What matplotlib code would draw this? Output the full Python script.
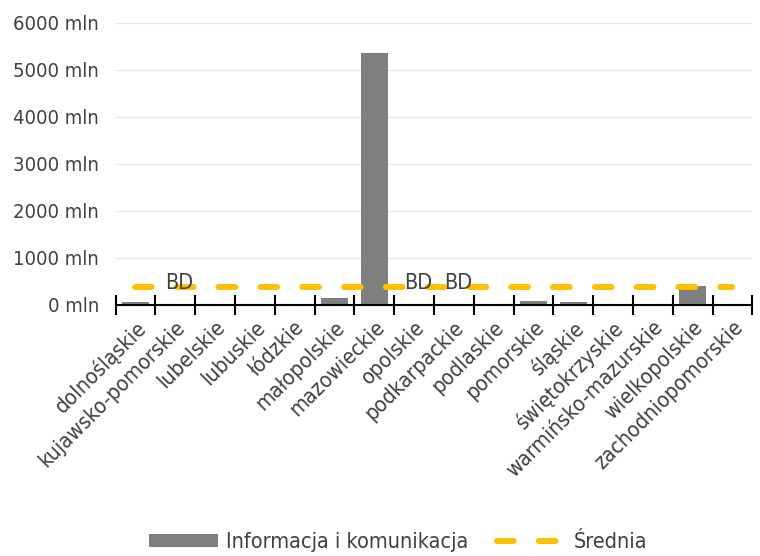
import numpy as np
import matplotlib
matplotlib.use("Agg")
from matplotlib import pyplot as plt
from matplotlib.patches import Patch
from matplotlib.lines import Line2D

regions = ["dolnośląskie", "kujawsko-pomorskie", "lubelskie", "lubuskie", "łódzkie",
           "małopolskie", "mazowieckie", "opolskie", "podkarpackie", "podlaskie",
           "pomorskie", "śląskie", "świętokrzyskie", "warmińsko-mazurskie",
           "wielkopolskie", "zachodniopomorskie"]
values = [55, 0, 0, 0, 25, 150, 5365, 0, 0, 0, 78, 57, 0, 0, 405, 0]
no_data = ["kujawsko-pomorskie", "opolskie", "podkarpackie"]
average = 382
yticks = [0, 1000, 2000, 3000, 4000, 5000, 6000]

plt.rcParams['font.family'] = ['DejaVu Sans']
plt.rcParams['font.stretch'] = 'condensed'
text_col = "#404040"

fig = plt.figure(figsize=(7.6, 5.56), dpi=100)
ax = fig.add_axes([0.152, 0.452, 0.838, 0.507])

x = np.arange(len(regions))
ax.bar(x, values, width=0.69, color="#7f7f7f", zorder=2)
ax.plot(x, [average] * len(x), color="#FFC000", lw=4.3, dashes=(2.8, 4.2),
        dash_capstyle="round", zorder=3)

for r in no_data:
    i = regions.index(r)
    ax.text(i + 0.1, 470, "BD", ha="center", va="center", fontsize=15.5, color=text_col, zorder=4)

ax.set_xlim(-0.5, len(regions) - 0.5)
ax.set_ylim(0, 6000)
ax.set_yticks(yticks)
ax.set_yticklabels([f"{v} mln" for v in yticks], fontsize=14.5, color=text_col)
ax.tick_params(axis="y", length=0, pad=12)
ax.grid(axis="y", color="#e6e6e6", lw=1, zorder=0)

ax.set_xticks(np.arange(len(regions) + 1) - 0.5, minor=False)
ax.set_xticklabels([])
ax.tick_params(axis="x", direction="inout", length=14, width=1.5, color="black")
ax.set_xticks(x, minor=True)
ax.set_xticklabels(regions, minor=True, rotation=45, ha="right", rotation_mode="anchor",
                   fontsize=15.5, color=text_col)
ax.tick_params(axis="x", which="minor", length=0, pad=9)

for s in ["top", "right", "left"]:
    ax.spines[s].set_visible(False)
ax.spines["bottom"].set_linewidth(1.5)
ax.spines["bottom"].set_zorder(5)

handles = [Patch(facecolor="#7f7f7f", edgecolor="none"),
           Line2D([], [], color="#FFC000", lw=4.3, dashes=(2.8, 4.2), dash_capstyle="round")]
fig.legend(handles, ["Informacja i komunikacja", "Średnia"], loc="lower center",
           bbox_to_anchor=(0.524, -0.028), ncol=2, frameon=False, fontsize=15.5,
           handlelength=3.2, handleheight=0.55, handletextpad=0.4, columnspacing=1.3,
           labelcolor=text_col)

fig.savefig("out.png", dpi=100)
